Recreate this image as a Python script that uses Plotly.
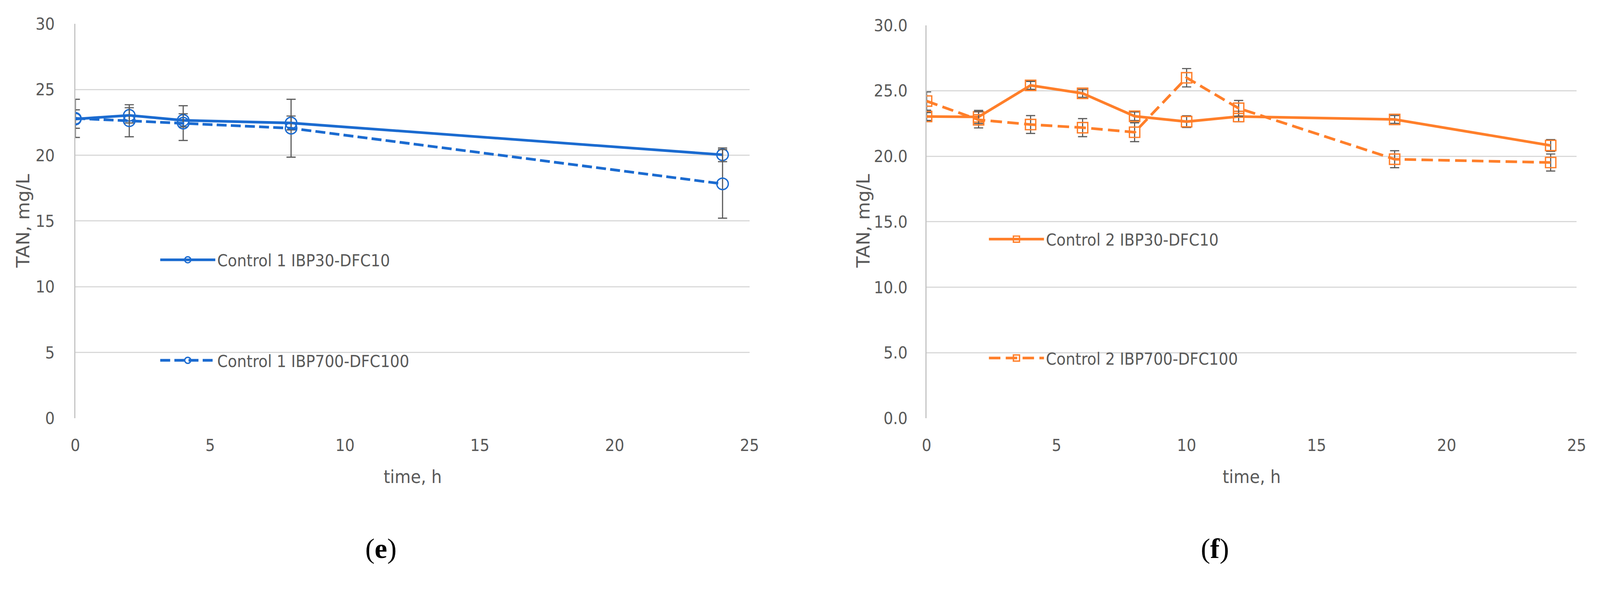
import plotly.graph_objects as go

# ---------------- data ----------------
t_e = [0, 2, 4, 8, 24]
e_ibp30 = [22.75, 23.03, 22.65, 22.45, 20.03]
e_ibp30_err = [0.7, 0.58, 0.5, 0.53, 0.52]
e_ibp700 = [22.8, 22.62, 22.44, 22.05, 17.82]
e_ibp700_err = [1.45, 1.22, 1.32, 2.2, 2.61]

t_f = [0, 2, 4, 6, 8, 10, 12, 18, 24]
f_ibp30 = [23.03, 23.0, 25.41, 24.8, 23.05, 22.64, 23.03, 22.81, 20.82]
f_ibp30_err = [0.3, 0.5, 0.3, 0.3, 0.33, 0.45, 0.4, 0.3, 0.45]
f_ibp700 = [24.21, 22.78, 22.42, 22.18, 21.83, 25.99, 23.66, 19.77, 19.52]
f_ibp700_err = [0.7, 0.62, 0.68, 0.69, 0.72, 0.7, 0.6, 0.65, 0.65]

names = ["Control 1 IBP30-DFC10", "Control 1 IBP700-DFC100",
         "Control 2 IBP30-DFC10", "Control 2 IBP700-DFC100"]
x_ticks = [0, 5, 10, 15, 20, 25]
y_ticks = [0, 5, 10, 15, 20, 25, 30]
x_title = "time, h"
y_title = "TAN, mg/L"
captions = ["(<b>e</b>)", "(<b>f</b>)"]

# ---------------- styling ----------------
W, H = 4184, 1511
BLUE = "#1B6BD0"
ORANGE = "#FF7F2A"
ERR = "#5A5A5A"
GRID = "#D9D9D9"
TXT = "#595959"
NARROW = "Liberation Sans Narrow, Arial Narrow, DejaVu Sans Condensed, sans-serif"


def px(x):
    return x / W


def py(y):
    return 1 - y / H


dom_e = [px(197), px(1960)]
dom_f = [px(2423), px(4123)]
ydom_e = [py(1094), py(62)]
ydom_f = [py(1094), py(66)]

fig = go.Figure()


def err(arr):
    return dict(type="data", array=arr, visible=True, color=ERR, thickness=3, width=12)


fig.add_trace(go.Scatter(
    x=t_e, y=e_ibp30, name=names[0], mode="lines+markers",
    line=dict(color=BLUE, width=7),
    marker=dict(symbol="circle-open", size=30, color=BLUE, line=dict(width=3.5, color=BLUE)),
    error_y=err(e_ibp30_err), xaxis="x", yaxis="y", legend="legend"))
fig.add_trace(go.Scatter(
    x=t_e, y=e_ibp700, name=names[1], mode="lines+markers",
    line=dict(color=BLUE, width=7, dash="26px,11px"),
    marker=dict(symbol="circle-open", size=30, color=BLUE, line=dict(width=3.5, color=BLUE)),
    error_y=err(e_ibp700_err), xaxis="x", yaxis="y", legend="legend2"))
fig.add_trace(go.Scatter(
    x=t_f, y=f_ibp30, name=names[2], mode="lines+markers",
    line=dict(color=ORANGE, width=7),
    marker=dict(symbol="square-open", size=27, color=ORANGE, line=dict(width=3.5, color=ORANGE)),
    error_y=err(f_ibp30_err), xaxis="x2", yaxis="y2", legend="legend3"))
fig.add_trace(go.Scatter(
    x=t_f, y=f_ibp700, name=names[3], mode="lines+markers",
    line=dict(color=ORANGE, width=7, dash="30px,14px"),
    marker=dict(symbol="square-open", size=27, color=ORANGE, line=dict(width=3.5, color=ORANGE)),
    error_y=err(f_ibp700_err), xaxis="x2", yaxis="y2", legend="legend4"))

xax = dict(range=[0, 25], tickvals=x_ticks, showgrid=False, zeroline=False, showline=False,
           automargin=False, ticks="outside", ticklen=32, tickcolor="rgba(0,0,0,0)",
           ticklabeloverflow="allow",
           tickfont=dict(family=NARROW, size=44, color=TXT))
yax = dict(range=[0, 30], tickvals=y_ticks, showgrid=True, gridcolor=GRID, gridwidth=3,
           zeroline=False, showline=True, linecolor="#C4C4C4", linewidth=3,
           automargin=False, ticks="outside", tickcolor="rgba(0,0,0,0)",
           ticklabeloverflow="allow",
           tickfont=dict(family=NARROW, size=44, color=TXT))

leg = dict(bgcolor="rgba(0,0,0,0)", borderwidth=0, xanchor="left", yanchor="middle",
           itemwidth=144, font=dict(family=NARROW, size=44, color=TXT), itemsizing="trace")

fig.update_layout(
    template="plotly_white",
    width=W, height=H, margin=dict(l=0, r=0, t=0, b=0, autoexpand=False),
    paper_bgcolor="white", plot_bgcolor="white",
    xaxis=dict(domain=dom_e, anchor="y", **xax),
    yaxis=dict(domain=ydom_e, anchor="x", ticklen=42, **yax),
    xaxis2=dict(domain=dom_f, anchor="y2", **xax),
    yaxis2=dict(domain=ydom_f, anchor="x2", ticklen=38, tickformat=".1f", **yax),
    legend=dict(x=px(414), y=py(680), **leg),
    legend2=dict(x=px(414), y=py(943), **leg),
    legend3=dict(x=px(2581), y=py(626), **leg),
    legend4=dict(x=px(2581), y=py(937), **leg),
    showlegend=True,
)

ann = []
for xc in [(197 + 1960) / 2, (2423 + 4123) / 2]:
    ann.append(dict(text=x_title, x=px(xc), y=py(1247), xref="paper", yref="paper",
                    xanchor="center", yanchor="middle", showarrow=False,
                    font=dict(family=NARROW, size=48, color=TXT)))
for xc in [60, 2257]:
    ann.append(dict(text=y_title, x=px(xc), y=py(578), xref="paper", yref="paper",
                    xanchor="center", yanchor="middle", showarrow=False, textangle=-90,
                    font=dict(family="DejaVu Sans", size=48, color=TXT)))
for xc, cap in zip([996, 3177], captions):
    ann.append(dict(text=cap, x=px(xc), y=py(1435), xref="paper", yref="paper",
                    xanchor="center", yanchor="middle", showarrow=False,
                    font=dict(family="Liberation Serif, DejaVu Serif, serif", size=74, color="black")))
fig.update_layout(annotations=ann)

# fit the fixed-size figure uniformly into the browser's CSS viewport width
post = """
var gd = document.getElementById('{plot_id}');
document.documentElement.style.margin = '0';
document.documentElement.style.overflow = 'hidden';
document.body.style.margin = '0';
document.body.style.overflow = 'hidden';
var s = window.innerWidth / %d;
if (Math.abs(s - 1) > 0.002) {
  gd.style.transformOrigin = '0 0';
  gd.style.transform = 'scale(' + s + ')';
}
""" % W

fig.write_html("out.html", config={"displayModeBar": False}, post_script=post)
